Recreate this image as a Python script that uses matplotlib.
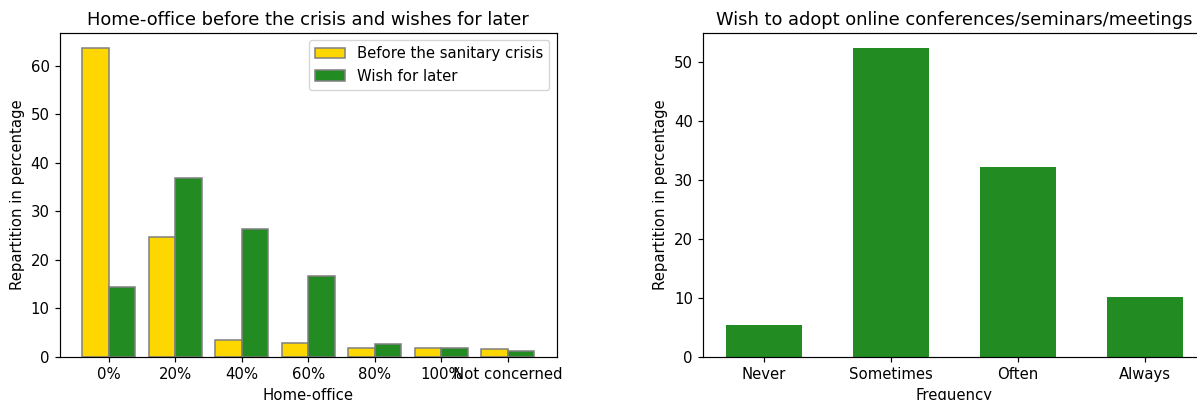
import numpy as np
import matplotlib
matplotlib.use('Agg')
import matplotlib.pyplot as plt

# home-office share, before the crisis vs. wish for later (percent)
ho_labels = ['0%', '20%', '40%', '60%', '80%', '100%', 'Not concerned']
ho_before = [63.6, 24.8, 3.5, 2.8, 1.9, 1.9, 1.6]
ho_later = [14.4, 36.8, 26.4, 16.6, 2.7, 1.9, 1.2]

# wish to adopt online meetings (percent)
freq_labels = ['Never', 'Sometimes', 'Often', 'Always']
freq_values = [5.4, 52.3, 32.2, 10.1]

k = 1.075
plt.rcParams.update({
    'font.size': 10 * k,
    'axes.linewidth': 0.8 * k,
    'xtick.major.size': 3.5 * k,
    'ytick.major.size': 3.5 * k,
    'xtick.major.width': 0.8 * k,
    'ytick.major.width': 0.8 * k,
})

fig = plt.figure(figsize=(11.97, 4.0), dpi=100)
ax1 = fig.add_axes([0.0498, 0.1075, 0.4155, 0.81])
ax2 = fig.add_axes([0.5873, 0.1075, 0.4202, 0.81])

x = np.arange(len(ho_labels))
w = 0.4
ax1.bar(x, ho_before, width=-w, align='edge', color='gold', edgecolor='grey',
        linewidth=1.1, label='Before the sanitary crisis')
ax1.bar(x, ho_later, width=w, align='edge', color='forestgreen', edgecolor='grey',
        linewidth=1.1, label='Wish for later')
ax1.set_xticks(x)
ax1.set_xticklabels(ho_labels)
ax1.set_xlabel('Home-office')
ax1.set_ylabel('Repartition in percentage')
ax1.set_title('Home-office before the crisis and wishes for later')
ax1.legend(loc='upper right')

xf = np.arange(len(freq_labels))
ax2.bar(xf, freq_values, width=0.6, color='forestgreen')
ax2.set_xticks(xf)
ax2.set_xticklabels(freq_labels)
ax2.set_xlabel('Frequency')
ax2.set_ylabel('Repartition in percentage')
ax2.set_title('Wish to adopt online conferences/seminars/meetings')

fig.savefig('out.png', dpi=100)
